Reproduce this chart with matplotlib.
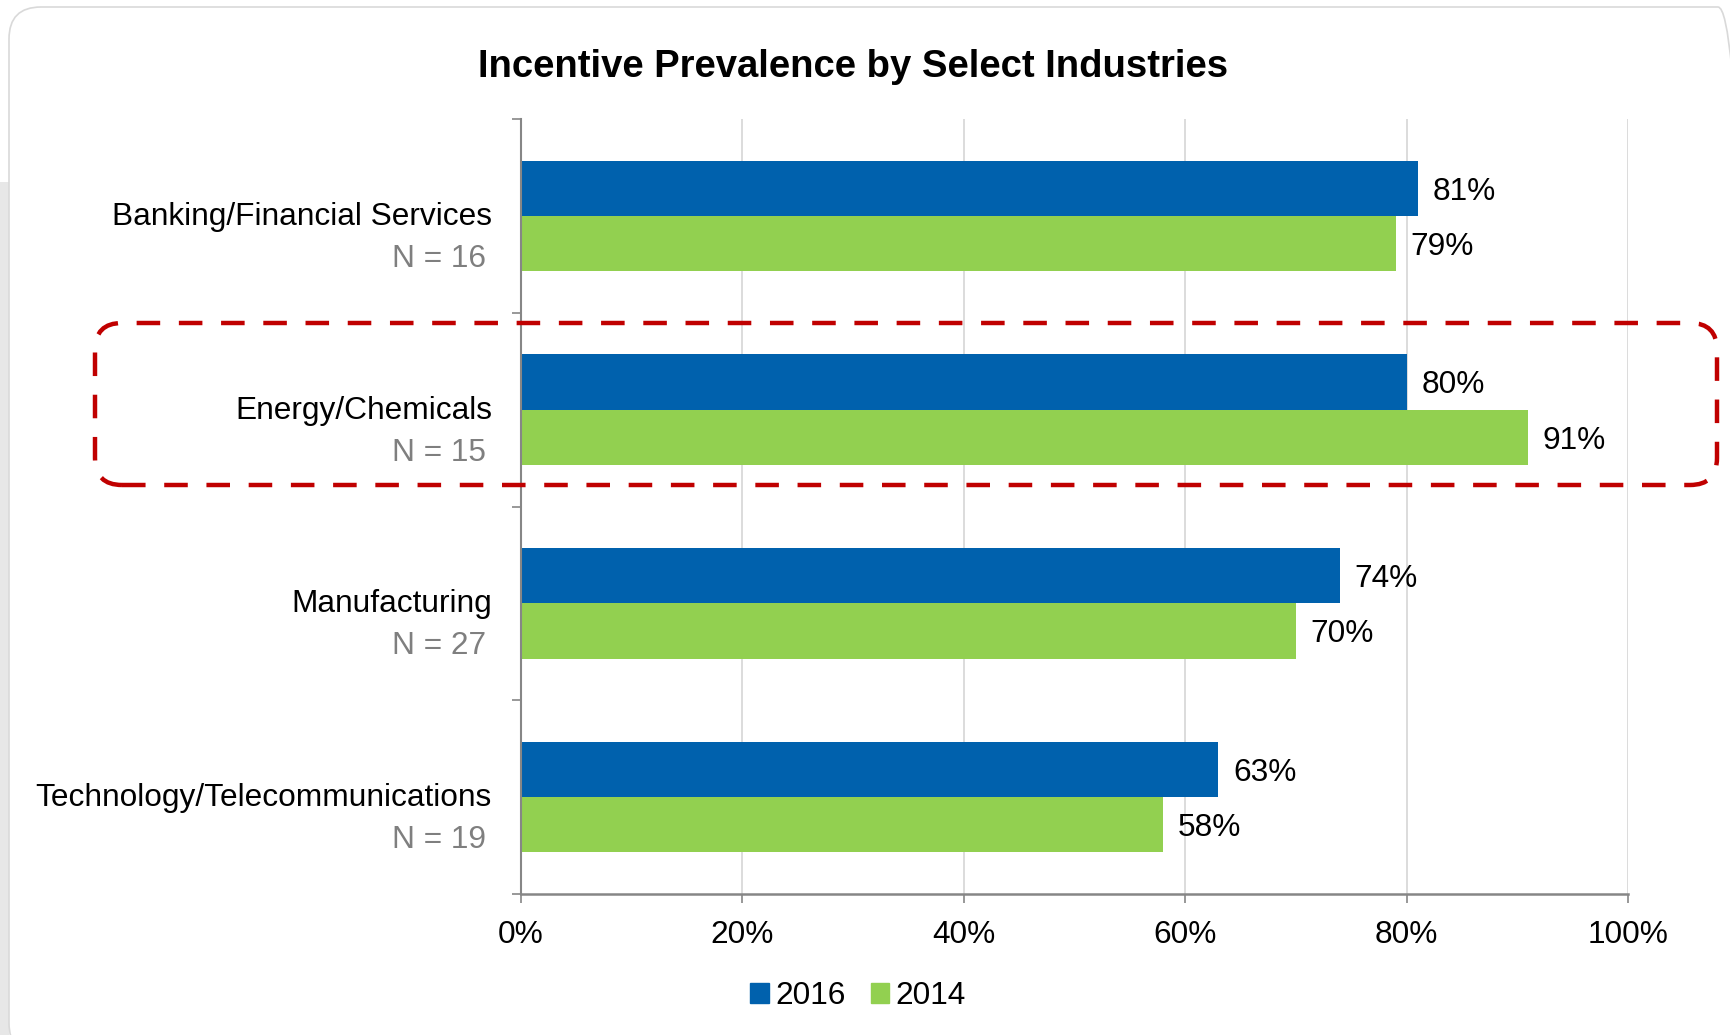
import numpy as np
import matplotlib.pyplot as plt
from matplotlib.patches import FancyBboxPatch, Rectangle, Patch
from matplotlib.transforms import IdentityTransform

plt.rcParams['font.family'] = ['Liberation Sans', 'DejaVu Sans']

# Data
industries = ['Banking/Financial Services', 'Energy/Chemicals',
              'Manufacturing', 'Technology/Telecommunications']
sample_sizes = [16, 15, 27, 19]
prev_2016 = [81, 80, 74, 63]
prev_2014 = [79, 91, 70, 58]

blue = '#0061AD'
green = '#92D050'
axis_gray = '#868686'
grid_gray = '#D9D9D9'
fs = 22.8

W, H = 1731, 1035
fig = plt.figure(figsize=(W / 100, H / 100), dpi=100)
ax = fig.add_axes([521 / W, 1 - 894 / H, (1628 - 521) / W, (894 - 119) / H])

y = np.arange(len(industries))
bar_h = 0.285

ax.barh(y - bar_h / 2, prev_2016, height=bar_h, color=blue, zorder=3)
ax.barh(y + bar_h / 2, prev_2014, height=bar_h, color=green, zorder=3)

# value labels
for yi, v in zip(y, prev_2016):
    ax.annotate(f'{v}%', xy=(v, yi - bar_h / 2), xytext=(10.5, -2.5),
                textcoords='offset points', ha='left', va='center', fontsize=fs)
for yi, v in zip(y, prev_2014):
    ax.annotate(f'{v}%', xy=(v, yi + bar_h / 2), xytext=(10.5, -2.5),
                textcoords='offset points', ha='left', va='center', fontsize=fs)

# category labels with sample sizes
for yi, name, n in zip(y, industries, sample_sizes):
    ax.annotate(name, xy=(0, yi), xycoords=('axes fraction', 'data'),
                xytext=(-20.9, -6.5), textcoords='offset points',
                ha='right', va='baseline', fontsize=fs)
    ax.annotate(f'N = {n}', xy=(0, yi), xycoords=('axes fraction', 'data'),
                xytext=(-25.2, -36.7), textcoords='offset points',
                ha='right', va='baseline', fontsize=fs, color='#7F7F7F')

ax.set_xlim(0, 100)
ax.set_ylim(len(industries) - 0.5, -0.5)
ax.set_xticks(np.arange(0, 101, 20))
ax.set_xticklabels([f'{t}%' for t in range(0, 101, 20)], fontsize=fs)
ax.set_yticks(np.arange(-0.5, len(industries), 1.0))
ax.set_yticklabels([])
ax.tick_params(axis='both', direction='out', length=6.5, width=1.2, color=axis_gray)
ax.tick_params(axis='x', pad=12.5)

ax.xaxis.grid(True, color=grid_gray, linewidth=1.3, zorder=0)
ax.set_axisbelow(True)
for side in ['top', 'right']:
    ax.spines[side].set_visible(False)
ax.spines['left'].set_color(axis_gray)
ax.spines['left'].set_linewidth(1.5)
ax.spines['bottom'].set_color(axis_gray)
ax.spines['bottom'].set_linewidth(1.8)
ax.spines['left'].set_zorder(4)

# title
fig.text(853 / W, 1 - 67 / H, 'Incentive Prevalence by Select Industries',
         ha='center', va='center', fontsize=27.5, fontweight='bold')

# legend
handles = [Patch(color=blue, label='2016'), Patch(color=green, label='2014')]
fig.legend(handles=handles, loc='center', bbox_to_anchor=(858 / W, 1 - 996 / H),
           ncol=2, frameon=False, fontsize=fs, handlelength=0.58,
           handleheight=0.58, handletextpad=0.2, columnspacing=0.8)

# outer frame and side strip
px = IdentityTransform()
fig.patches.append(Rectangle((0, 0), 9, H - 182, transform=px,
                             facecolor='#E7E7E7', edgecolor='none', zorder=0))
fig.patches.append(FancyBboxPatch((9, -20), W + 10, H - 7 + 20,
                                  boxstyle='round,pad=0,rounding_size=32',
                                  transform=px, facecolor='none',
                                  edgecolor='#D9D9D9', linewidth=1.2, zorder=1))

# highlight around Energy/Chemicals
fig.patches.append(FancyBboxPatch((95, H - 485), 1717 - 95, 485 - 323,
                                  boxstyle='round,pad=0,rounding_size=27',
                                  transform=px, facecolor='none',
                                  edgecolor='#C00000', linewidth=3.2,
                                  linestyle=(0, (5.3, 4.2)), zorder=10))

plt.savefig('out.png', dpi=100)
